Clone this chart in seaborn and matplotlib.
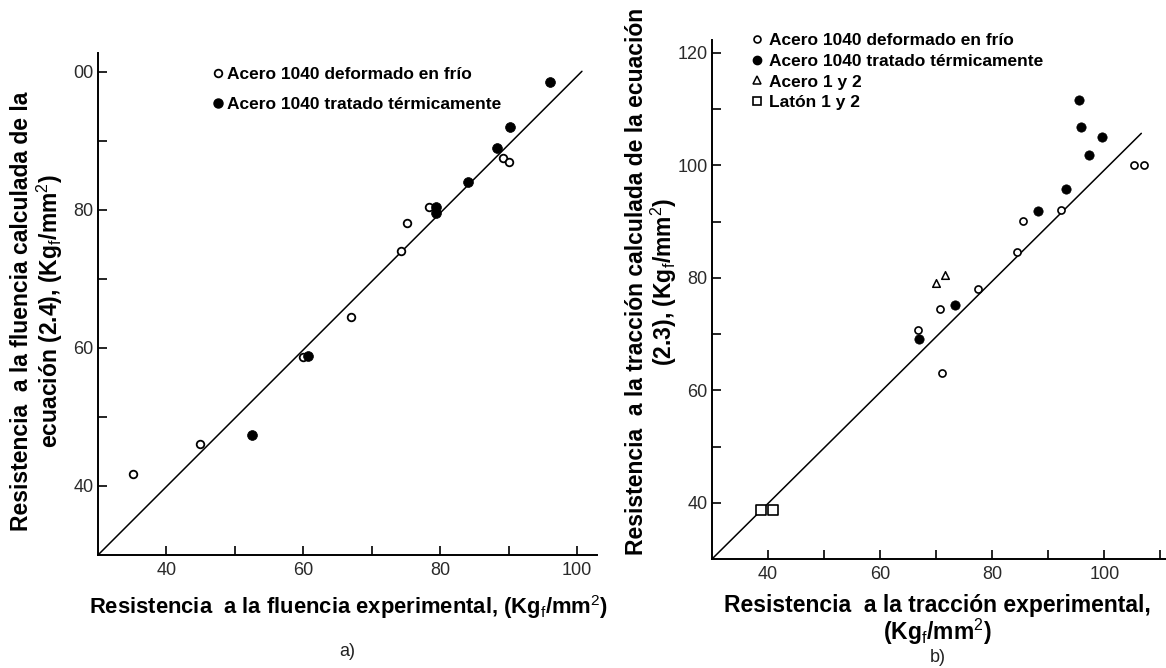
import matplotlib
matplotlib.use("Agg")
import matplotlib.pyplot as plt
from matplotlib.lines import Line2D
import seaborn as sns
import pandas as pd

# ---------------- data ----------------
# a) yield strength
a_frio_x = [35.1, 44.9, 59.9, 67.0, 74.2, 75.1, 78.4, 89.1, 90.1]
a_frio_y = [41.7, 46.1, 58.7, 64.5, 74.1, 78.1, 80.5, 87.5, 86.9]
a_term_x = [52.5, 60.7, 79.4, 79.4, 84.0, 88.3, 90.2, 96.0]
a_term_y = [47.4, 58.8, 80.4, 79.5, 84.0, 89.0, 92.0, 98.6]
a_line_x = [30, 100.7]
a_line_y = [30, 100.1]

# b) tensile strength
b_frio_x = [66.7, 71.1, 70.7, 77.5, 84.4, 85.4, 92.2, 105.3, 107.0]
b_frio_y = [70.7, 63.1, 74.5, 78.1, 84.6, 90.1, 92.0, 100.1, 100.1]
b_term_x = [66.9, 73.3, 88.2, 93.2, 95.5, 95.9, 97.2, 99.6]
b_term_y = [69.1, 75.2, 91.9, 95.8, 111.7, 106.8, 101.9, 105.1]
b_acero_x = [69.9, 71.6]
b_acero_y = [79.0, 80.5]
b_laton_x = [38.7, 40.8]
b_laton_y = [38.7, 38.7]
b_line_x = [30, 106.6]
b_line_y = [30, 105.7]

a_xticks = [40, 50, 60, 70, 80, 90, 100]
a_xticklabels = ["40", "", "60", "", "80", "", "100"]
a_yticks = [40, 50, 60, 70, 80, 90, 100]
a_yticklabels = ["40", "", "60", "", "80", "", "00"]
b_xticks = [40, 50, 60, 70, 80, 90, 100, 110]
b_xticklabels = ["40", "", "60", "", "80", "", "100", ""]
b_yticks = [40, 50, 60, 70, 80, 90, 100, 110, 120]
b_yticklabels = ["40", "", "60", "", "80", "", "100", "", "120"]

lab_frio = "Acero 1040 deformado en frío"
lab_term = "Acero 1040 tratado térmicamente"
lab_acero = "Acero 1 y 2"
lab_laton = "Latón 1 y 2"

a_xlabel = "Resistencia  a la fluencia experimental, (Kg$_\\mathrm{f}$/mm$^\\mathrm{2}$)"
a_ylabel = "Resistencia  a la fluencia calculada de la\necuación (2.4), (Kg$_\\mathrm{f}$/mm$^\\mathrm{2}$)"
b_xlabel = "Resistencia  a la tracción experimental,\n(Kg$_\\mathrm{f}$/mm$^\\mathrm{2}$)"
b_ylabel = "Resistencia  a la tracción calculada de la ecuación\n(2.3), (Kg$_\\mathrm{f}$/mm$^\\mathrm{2}$)"

# ---------------- style ----------------
sns.set_theme(style="white")
plt.rcParams["font.family"] = ["Liberation Sans", "DejaVu Sans"]
plt.rcParams["mathtext.fontset"] = "custom"
plt.rcParams["mathtext.rm"] = "Liberation Sans"
plt.rcParams["mathtext.it"] = "Liberation Sans:italic"
plt.rcParams["mathtext.bf"] = "Liberation Sans:bold"
plt.rcParams["text.color"] = "black"
plt.rcParams["axes.labelcolor"] = "black"

W, H = 1166, 668
fig = plt.figure(figsize=(W / 100, H / 100), dpi=100)
fig.patch.set_facecolor("white")

def px_axes(l, r, t, b):
    return fig.add_axes([l / W, 1 - b / H, (r - l) / W, (b - t) / H])

ax_a = px_axes(98, 597, 53, 555)
ax_b = px_axes(712, 1166, 40, 559)

LBL = 16.5
TCK = 13
LEG = 12.5

def style_axes(ax, xlim, ylim, xt, xtl, yt, ytl):
    ax.set_xlim(*xlim)
    ax.set_ylim(*ylim)
    for s in ["top", "right"]:
        ax.spines[s].set_visible(False)
    for s in ["left", "bottom"]:
        ax.spines[s].set_color("black")
        ax.spines[s].set_linewidth(1.4)
    ax.set_xticks(xt)
    ax.set_xticklabels(xtl)
    ax.set_yticks(yt)
    ax.set_yticklabels(ytl)
    ax.tick_params(axis="both", which="major", direction="in", length=6.5,
                   width=1.2, colors="black", labelsize=TCK,
                   labelcolor="#2a2a2a", bottom=True, left=True,
                   top=False, right=False)
    ax.tick_params(axis="x", pad=5)
    ax.tick_params(axis="y", pad=3)
    ax.set_facecolor("white")
    ax.grid(False)

# ---------------- panel a ----------------
df_a1 = pd.DataFrame({"x": a_frio_x, "y": a_frio_y})
df_a2 = pd.DataFrame({"x": a_term_x, "y": a_term_y})
df_al = pd.DataFrame({"x": a_line_x, "y": a_line_y})
sns.lineplot(data=df_al, x="x", y="y", ax=ax_a, color="black", linewidth=1.1)
sns.scatterplot(data=df_a1, x="x", y="y", ax=ax_a, marker="o", s=30,
                facecolor="white", edgecolor="black", linewidth=1.3, zorder=3)
sns.scatterplot(data=df_a2, x="x", y="y", ax=ax_a, marker="o", s=50,
                color="black", edgecolor="black", linewidth=0.5, zorder=3)
style_axes(ax_a, (30, 102.9), (30, 102.75), a_xticks, a_xticklabels,
           a_yticks, a_yticklabels)
ax_a.set_xlabel(a_xlabel, fontsize=15.8, fontweight="bold")
ax_a.set_ylabel(a_ylabel, fontsize=LBL, fontweight="bold", linespacing=1.05)
ax_a.xaxis.set_label_coords(0.503, -0.075)
ax_a.yaxis.set_label_coords(-0.067, 0.486)

h_frio = Line2D([], [], ls="none", marker="o", ms=5.5, mfc="white",
                mec="black", mew=1.3)
h_term = Line2D([], [], ls="none", marker="o", ms=6.5, mfc="black",
                mec="black")
leg_a = ax_a.legend([h_frio, h_term], [lab_frio, lab_term], loc="upper left",
                    bbox_to_anchor=(212.8 / W, 1 - 67 / H),
                    bbox_transform=fig.transFigure, frameon=False,
                    handlelength=0.6, handletextpad=0.22, labelspacing=0.86,
                    borderpad=0, borderaxespad=0,
                    prop={"size": LEG, "weight": "bold"})

# ---------------- panel b ----------------
df_b1 = pd.DataFrame({"x": b_frio_x, "y": b_frio_y})
df_b2 = pd.DataFrame({"x": b_term_x, "y": b_term_y})
df_b3 = pd.DataFrame({"x": b_acero_x, "y": b_acero_y})
df_b4 = pd.DataFrame({"x": b_laton_x, "y": b_laton_y})
df_bl = pd.DataFrame({"x": b_line_x, "y": b_line_y})
sns.lineplot(data=df_bl, x="x", y="y", ax=ax_b, color="black", linewidth=1.1)
sns.scatterplot(data=df_b1, x="x", y="y", ax=ax_b, marker="o", s=26,
                facecolor="white", edgecolor="black", linewidth=1.2, zorder=3)
sns.scatterplot(data=df_b2, x="x", y="y", ax=ax_b, marker="o", s=45,
                color="black", edgecolor="black", linewidth=0.5, zorder=3)
sns.scatterplot(data=df_b3, x="x", y="y", ax=ax_b, marker="^", s=30,
                facecolor="white", edgecolor="black", linewidth=1.1, zorder=3)
sns.scatterplot(data=df_b4, x="x", y="y", ax=ax_b, marker="s", s=45,
                facecolor="white", edgecolor="black", linewidth=1.2, zorder=3)
style_axes(ax_b, (30, 111.0), (30, 122.3), b_xticks, b_xticklabels,
           b_yticks, b_yticklabels)
ax_b.set_xlabel(b_xlabel, fontsize=LBL, fontweight="bold", linespacing=1.0)
ax_b.set_ylabel(b_ylabel, fontsize=LBL, fontweight="bold", linespacing=1.05)
ax_b.xaxis.set_label_coords(0.496, -0.067)
ax_b.yaxis.set_label_coords(-0.073, 0.534)

hb_frio = Line2D([], [], ls="none", marker="o", ms=5, mfc="white",
                 mec="black", mew=1.2)
hb_term = Line2D([], [], ls="none", marker="o", ms=6, mfc="black",
                 mec="black")
hb_acero = Line2D([], [], ls="none", marker="^", ms=5.5, mfc="white",
                  mec="black", mew=1.1)
hb_laton = Line2D([], [], ls="none", marker="s", ms=6, mfc="white",
                  mec="black", mew=1.2)
leg_b = ax_b.legend([hb_frio, hb_term, hb_acero, hb_laton],
                    [lab_frio, lab_term, lab_acero, lab_laton],
                    loc="upper left", bbox_to_anchor=(752 / W, 1 - 33 / H),
                    bbox_transform=fig.transFigure, frameon=False,
                    handlelength=0.6, handletextpad=0.39, labelspacing=0.32,
                    borderpad=0, borderaxespad=0,
                    prop={"size": LEG, "weight": "bold"})

fig.text(347 / W, 1 - 652 / H, "a)", ha="center", va="center", fontsize=13,
         color="#222222")
fig.text(938 / W, 1 - 658 / H, "b)", ha="center", va="center", fontsize=13,
         color="#222222")

fig.savefig("out.png", dpi=100, facecolor="white")
